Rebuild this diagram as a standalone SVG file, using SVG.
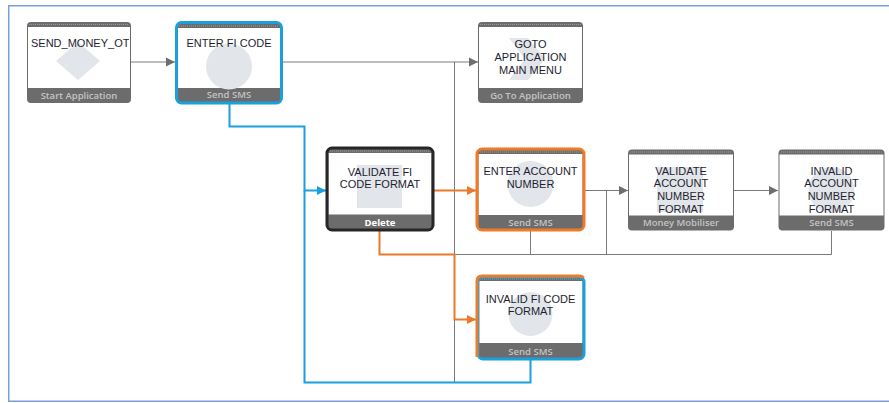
<svg xmlns="http://www.w3.org/2000/svg" width="889" height="403" viewBox="0 0 889 403">
  <defs>
    <style>
      .card { fill: #6c6c6c; }
      .body { fill: #ffffff; }
      .strip { stroke: #9a9a9a; stroke-width: 1; stroke-dasharray: 1 1; }
      .icon { fill: #e2e5ea; }
      .title { font-family: "Liberation Sans", Arial, sans-serif; font-size: 11px; fill: #1e1e30; text-anchor: middle; }
      .foot { font-family: "Open Sans", "Liberation Sans", sans-serif; font-size: 9.5px; font-weight: 600; fill: #c4c4c4; text-anchor: middle; }
      .foot-del { fill: #ffffff; font-weight: 700; }
      .sel-blue { fill: none; stroke: #1aa0dc; stroke-width: 3; }
      .sel-orange { fill: none; stroke: #ee7b27; stroke-width: 3; }
      .sel-black { fill: none; stroke: #262626; stroke-width: 3; }
      .gray { fill: none; stroke: #7a7a7a; stroke-width: 1; }
      .blue { fill: none; stroke: #1aa0dc; stroke-width: 2; }
      .orange { fill: none; stroke: #ea7a2a; stroke-width: 2; }
    </style>
    <clipPath id="clipSendMoney">
      <rect x="28" y="27" width="101" height="61"/>
    </clipPath>
    <marker id="arrGray" markerUnits="userSpaceOnUse" markerWidth="10" markerHeight="10" refX="9" refY="5" orient="auto">
      <path d="M0,0.5 L9,5 L0,9.5 Z" fill="#6e6e6e"/>
    </marker>
    <marker id="arrBlue" markerUnits="userSpaceOnUse" markerWidth="10" markerHeight="10" refX="9" refY="5" orient="auto">
      <path d="M0,0.5 L9,5 L0,9.5 Z" fill="#1aa0dc"/>
    </marker>
    <marker id="arrOrange" markerUnits="userSpaceOnUse" markerWidth="10" markerHeight="10" refX="9" refY="5" orient="auto">
      <path d="M0,0.5 L9,5 L0,9.5 Z" fill="#ea7a2a"/>
    </marker>
  </defs>

  <rect x="0" y="0" width="889" height="403" fill="#ffffff"/>
  <!-- canvas frame -->
  <rect x="8.75" y="5.75" width="900" height="395.5" fill="none" stroke="#78a1da" stroke-width="1.5"/>

  <!-- connectors -->
  <g id="connectors">
    <path class="gray" d="M131,62 H175" marker-end="url(#arrGray)"/>
    <path class="gray" d="M283,62 H478" marker-end="url(#arrGray)"/>
    <path class="gray" d="M454.5,62 V382.5"/>
    <path class="gray" d="M530.5,231 V254.5 H454.5"/>
    <path class="gray" d="M831.5,231 V254.5 H530.5"/>
    <path class="gray" d="M606.5,190.5 V254.5"/>
    <path class="gray" d="M585,190.5 H628" marker-end="url(#arrGray)"/>
    <path class="gray" d="M734,190.5 H778" marker-end="url(#arrGray)"/>
    <path class="gray" d="M530.5,360 V382.5 H454.5"/>
    <path class="blue" d="M229.5,104 V126.5 H304.5 V190.5 H326" marker-end="url(#arrBlue)"/>
    <path class="blue" d="M530.5,360 V382.5 H304.5 V190.5"/>
    <path class="orange" d="M434,190.5 H476" marker-end="url(#arrOrange)"/>
    <path class="orange" d="M379.5,231 V254.5 H454.5 V319.5 H476" marker-end="url(#arrOrange)"/>
  </g>

  <!-- Start Application -->
  <g id="node-send-money">
    <rect class="card" x="27" y="22" width="104" height="81" rx="4"/>
    <rect class="body" x="28" y="27" width="102" height="61"/>
    <line class="strip" x1="29" y1="24.5" x2="129" y2="24.5"/>
    <polygon class="icon" points="78,42 100,61 78,80 56,61"/>
    <text class="title" x="31" y="46.5" style="text-anchor:start" clip-path="url(#clipSendMoney)">SEND_MONEY_OT</text>
    <text class="foot" x="79" y="98.5">Start Application</text>
  </g>

  <!-- Send SMS -->
  <g id="node-enter-fi-code">
    <rect class="card" x="177" y="23.5" width="104" height="79" rx="4"/>
    <rect class="body" x="178" y="28" width="102" height="60"/>
    <line class="strip" x1="179" y1="26" x2="279" y2="26"/>
    <circle class="icon" cx="229" cy="66.5" r="23"/>
    <text class="title" x="229" y="46.5">ENTER FI CODE</text>
    <text class="foot" x="229" y="98">Send SMS</text>
    <rect class="sel-blue" x="176.5" y="22.5" width="105" height="80.5" rx="5"/>
  </g>

  <!-- Go To Application -->
  <g id="node-goto-main-menu">
    <rect class="card" x="478" y="22" width="105" height="81" rx="4"/>
    <rect class="body" x="479" y="27" width="103" height="61"/>
    <line class="strip" x1="480" y1="24.5" x2="581" y2="24.5"/>
    <polygon class="icon" points="509,38 528,38 545,59 528,80 509,80 525,59"/>
    <text class="title" x="530.5" y="47.5">GOTO</text>
    <text class="title" x="530.5" y="60.5">APPLICATION</text>
    <text class="title" x="530.5" y="73.5">MAIN MENU</text>
    <text class="foot" x="530.5" y="98.5">Go To Application</text>
  </g>

  <!-- Delete -->
  <g id="node-validate-fi-code">
    <rect class="card" x="327.5" y="148.5" width="105" height="81" rx="4"/>
    <rect class="body" x="328.5" y="153" width="103" height="61.5"/>
    <line class="strip" x1="330" y1="151" x2="430" y2="151"/>
    <rect class="icon" x="357" y="165" width="45" height="43"/>
    <text class="title" x="380" y="175.5">VALIDATE FI</text>
    <text class="title" x="380" y="188">CODE FORMAT</text>
    <text class="foot foot-del" x="380" y="226">Delete</text>
    <rect class="sel-black" x="327" y="148" width="106" height="82" rx="5"/>
  </g>

  <!-- Send SMS -->
  <g id="node-enter-account-number">
    <rect class="card" x="477.5" y="149.5" width="106" height="80" rx="4"/>
    <rect class="body" x="478.5" y="154" width="104" height="61"/>
    <line class="strip" x1="480" y1="152" x2="581" y2="152"/>
    <circle class="icon" cx="530.5" cy="184" r="23"/>
    <text class="title" x="530.5" y="175">ENTER ACCOUNT</text>
    <text class="title" x="530.5" y="187.5">NUMBER</text>
    <text class="foot" x="530.5" y="225.5">Send SMS</text>
    <rect class="sel-orange" x="477" y="149" width="107" height="81" rx="5"/>
  </g>

  <!-- Money Mobiliser -->
  <g id="node-validate-account-number">
    <rect class="card" x="628" y="149.5" width="106" height="81" rx="4"/>
    <rect class="body" x="629" y="154.5" width="104" height="61"/>
    <line class="strip" x1="630" y1="152" x2="732" y2="152"/>
    <rect class="icon" x="657" y="167" width="46" height="45"/>
    <text class="title" x="681" y="174.5">VALIDATE</text>
    <text class="title" x="681" y="187">ACCOUNT</text>
    <text class="title" x="681" y="200">NUMBER</text>
    <text class="title" x="681" y="212.5">FORMAT</text>
    <text class="foot" x="681" y="226">Money Mobiliser</text>
  </g>

  <!-- Send SMS -->
  <g id="node-invalid-account-number">
    <rect class="card" x="778.5" y="149.5" width="106" height="81" rx="4"/>
    <rect class="body" x="779.5" y="154.5" width="104" height="61"/>
    <line class="strip" x1="781" y1="152" x2="882" y2="152"/>
    <circle class="icon" cx="831.5" cy="190" r="23"/>
    <text class="title" x="831.5" y="174.5">INVALID</text>
    <text class="title" x="831.5" y="187">ACCOUNT</text>
    <text class="title" x="831.5" y="200">NUMBER</text>
    <text class="title" x="831.5" y="212.5">FORMAT</text>
    <text class="foot" x="831.5" y="226">Send SMS</text>
  </g>

  <!-- Send SMS -->
  <g id="node-invalid-fi-code">
    <rect class="card" x="477.5" y="276.5" width="106" height="82" rx="4"/>
    <rect class="body" x="478.5" y="281" width="104" height="62"/>
    <line class="strip" x1="480" y1="279" x2="581" y2="279"/>
    <circle class="icon" cx="530.5" cy="314" r="22"/>
    <text class="title" x="530.5" y="302.5">INVALID FI CODE</text>
    <text class="title" x="530.5" y="315">FORMAT</text>
    <text class="foot" x="530.5" y="355">Send SMS</text>
    <rect class="sel-blue" x="478" y="277" width="106" height="82" rx="5"/>
    <path class="sel-orange" d="M477,357 V281 Q477,276 482,276 H579 Q583,276 583,278"/>
  </g>
</svg>
